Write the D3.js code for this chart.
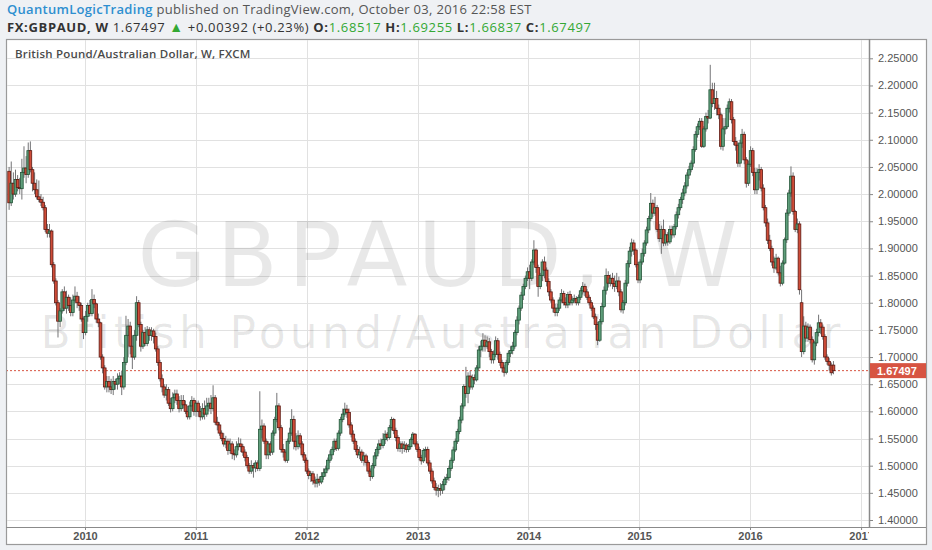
<!DOCTYPE html>
<html><head><meta charset="utf-8">
<script src="https://cdn.jsdelivr.net/npm/d3@7"></script>
<style>
html,body{margin:0;padding:0;background:#eff1f4;}
svg{display:block;}
</style></head><body>
<svg id="c" width="932" height="550"></svg>
<script>
// ---- data (weekly candles, FXCM GBPAUD) ----
const firstWeek = "2009-04-26";
const lastWeekEnd = "2016-10-03";
const open = [
2.042,1.984,2.02,2.0,2.027,2.012,2.01,2.04,2.048,2.036,
2.08,2.045,2.02,2.008,1.995,1.99,1.985,1.975,1.935,1.928,
1.932,1.87,1.84,1.80,1.766,1.785,1.82,1.79,1.81,1.795,
1.782,1.805,1.812,1.80,1.795,1.77,1.745,1.775,1.795,1.78,
1.806,1.798,1.77,1.763,1.70,1.68,1.645,1.655,1.645,1.64,
1.655,1.65,1.66,1.665,1.645,1.69,1.74,1.757,1.72,1.70,
1.74,1.80,1.76,1.72,1.745,1.725,1.75,1.74,1.748,1.738,
1.715,1.69,1.66,1.645,1.63,1.64,1.615,1.605,1.625,1.632,
1.62,1.605,1.62,1.612,1.60,1.59,1.61,1.62,1.60,1.615,
1.60,1.59,1.605,1.595,1.61,1.615,1.605,1.625,1.58,1.575,
1.56,1.55,1.54,1.545,1.528,1.54,1.522,1.52,1.535,1.54,
1.535,1.525,1.515,1.50,1.49,1.50,1.496,1.505,1.495,1.567,
1.573,1.545,1.52,1.54,1.525,1.56,1.585,1.61,1.57,1.53,
1.525,1.51,1.545,1.56,1.585,1.545,1.535,1.555,1.54,1.52,
1.51,1.49,1.482,1.485,1.472,1.468,1.475,1.47,1.48,1.487,
1.494,1.51,1.52,1.53,1.545,1.532,1.56,1.585,1.595,1.604,
1.598,1.575,1.558,1.545,1.53,1.52,1.525,1.51,1.518,1.506,
1.49,1.48,1.50,1.518,1.53,1.54,1.537,1.548,1.558,1.552,
1.57,1.585,1.565,1.552,1.532,1.54,1.532,1.538,1.53,1.535,
1.548,1.558,1.54,1.53,1.515,1.509,1.528,1.53,1.505,1.49,
1.472,1.46,1.455,1.458,1.455,1.465,1.475,1.478,1.495,1.51,
1.529,1.545,1.563,1.584,1.61,1.646,1.633,1.665,1.645,1.662,
1.658,1.68,1.713,1.72,1.731,1.72,1.728,1.71,1.695,1.705,
1.73,1.705,1.69,1.68,1.672,1.69,1.707,1.712,1.72,1.745,
1.768,1.79,1.814,1.83,1.845,1.857,1.845,1.875,1.897,1.865,
1.83,1.85,1.875,1.86,1.839,1.82,1.805,1.79,1.782,1.79,
1.805,1.817,1.80,1.796,1.815,1.80,1.805,1.808,1.80,1.81,
1.822,1.83,1.82,1.81,1.80,1.79,1.774,1.76,1.731,1.765,
1.793,1.823,1.85,1.836,1.845,1.835,1.83,1.84,1.82,1.787,
1.80,1.836,1.872,1.895,1.91,1.897,1.87,1.842,1.875,1.891,
1.91,1.934,1.955,1.983,1.965,1.975,1.935,1.918,1.935,1.91,
1.925,1.912,1.935,1.925,1.94,1.962,1.975,1.99,2.002,2.015,
2.035,2.045,2.057,2.082,2.11,2.124,2.134,2.088,2.12,2.143,
2.14,2.192,2.167,2.176,2.158,2.146,2.088,2.12,2.124,2.158,
2.17,2.137,2.097,2.09,2.057,2.094,2.11,2.063,2.02,2.055,
2.08,2.04,2.008,2.04,2.045,2.011,1.975,1.947,1.915,1.90,
1.875,1.864,1.882,1.855,1.836,1.873,1.916,1.965,2.002,2.033,
1.968,1.935,1.945,1.80,1.71,1.757,1.735,1.755,1.732,1.695,
1.726,1.745,1.763,1.755,1.738,1.70,1.692,1.685,1.68517];
const high = [
2.05,2.06,2.04,2.045,2.035,2.03,2.065,2.088,2.07,2.095,
2.097,2.05,2.04,2.027,2.025,2.0,1.995,1.98,1.945,1.945,
1.935,1.875,1.845,1.805,1.79,1.825,1.83,1.822,1.815,1.81,
1.815,1.83,1.82,1.812,1.80,1.775,1.785,1.80,1.805,1.825,
1.815,1.80,1.78,1.765,1.705,1.685,1.665,1.665,1.66,1.665,
1.66,1.67,1.672,1.675,1.70,1.776,1.77,1.765,1.74,1.75,
1.812,1.805,1.765,1.75,1.755,1.757,1.755,1.755,1.752,1.745,
1.72,1.695,1.668,1.65,1.65,1.645,1.625,1.635,1.64,1.64,
1.628,1.63,1.63,1.62,1.61,1.618,1.628,1.625,1.62,1.62,
1.61,1.615,1.62,1.625,1.625,1.63,1.648,1.63,1.59,1.58,
1.565,1.56,1.555,1.55,1.55,1.545,1.53,1.545,1.552,1.55,
1.54,1.53,1.52,1.505,1.51,1.505,1.51,1.51,1.637,1.585,
1.578,1.55,1.545,1.545,1.565,1.59,1.634,1.615,1.575,1.54,
1.53,1.55,1.57,1.604,1.592,1.56,1.565,1.56,1.545,1.525,
1.515,1.495,1.49,1.49,1.48,1.485,1.48,1.488,1.495,1.50,
1.515,1.528,1.535,1.55,1.55,1.565,1.59,1.605,1.616,1.612,
1.605,1.58,1.565,1.55,1.538,1.535,1.53,1.525,1.522,1.51,
1.495,1.505,1.525,1.535,1.548,1.55,1.56,1.565,1.562,1.575,
1.59,1.588,1.57,1.556,1.545,1.545,1.545,1.542,1.54,1.552,
1.562,1.56,1.545,1.535,1.52,1.532,1.535,1.535,1.51,1.495,
1.478,1.468,1.465,1.468,1.472,1.48,1.485,1.50,1.515,1.535,
1.55,1.568,1.59,1.615,1.65,1.682,1.672,1.675,1.668,1.668,
1.685,1.72,1.73,1.744,1.74,1.738,1.735,1.715,1.712,1.738,
1.735,1.71,1.695,1.685,1.695,1.712,1.72,1.728,1.75,1.775,
1.795,1.82,1.835,1.85,1.865,1.87,1.88,1.915,1.90,1.87,
1.855,1.88,1.885,1.865,1.845,1.825,1.81,1.798,1.798,1.81,
1.825,1.822,1.81,1.82,1.822,1.812,1.815,1.812,1.815,1.828,
1.838,1.835,1.825,1.815,1.805,1.795,1.78,1.765,1.77,1.80,
1.83,1.863,1.858,1.852,1.855,1.85,1.855,1.848,1.825,1.805,
1.842,1.878,1.903,1.918,1.916,1.90,1.875,1.88,1.90,1.915,
1.94,1.96,2.002,1.99,1.995,1.98,1.945,1.942,1.953,1.935,
1.93,1.942,1.942,1.945,1.968,1.982,1.995,2.01,2.022,2.04,
2.052,2.062,2.088,2.116,2.13,2.14,2.14,2.125,2.15,2.155,
2.238,2.205,2.205,2.19,2.165,2.15,2.14,2.14,2.165,2.176,
2.175,2.142,2.105,2.095,2.10,2.12,2.115,2.068,2.062,2.088,
2.085,2.048,2.048,2.055,2.05,2.018,1.98,1.955,1.925,1.905,
1.885,1.89,1.885,1.868,1.878,1.92,1.972,2.008,2.051,2.04,
1.971,1.955,1.95,1.824,1.775,1.765,1.762,1.76,1.738,1.73,
1.752,1.778,1.77,1.76,1.742,1.705,1.698,1.69,1.69255];
const low = [
1.971,1.978,1.99,1.995,2.005,2.0,1.99,2.03,2.02,2.03,
2.04,2.005,2.0,1.99,1.985,1.978,1.97,1.93,1.92,1.92,
1.865,1.835,1.795,1.736,1.755,1.78,1.785,1.78,1.785,1.775,
1.775,1.80,1.79,1.785,1.765,1.733,1.74,1.765,1.775,1.775,
1.79,1.763,1.755,1.695,1.67,1.64,1.635,1.635,1.632,1.63,
1.64,1.64,1.65,1.63,1.64,1.685,1.70,1.705,1.678,1.695,
1.73,1.755,1.71,1.715,1.72,1.72,1.73,1.73,1.725,1.71,
1.684,1.655,1.635,1.625,1.62,1.61,1.598,1.60,1.615,1.612,
1.598,1.60,1.605,1.595,1.585,1.585,1.60,1.592,1.59,1.59,
1.583,1.585,1.585,1.59,1.60,1.595,1.60,1.575,1.565,1.555,
1.545,1.535,1.532,1.52,1.522,1.512,1.51,1.515,1.528,1.525,
1.518,1.508,1.495,1.485,1.485,1.478,1.488,1.49,1.49,1.55,
1.54,1.512,1.512,1.518,1.52,1.555,1.58,1.565,1.524,1.515,
1.506,1.505,1.54,1.555,1.53,1.528,1.53,1.532,1.515,1.505,
1.485,1.475,1.47,1.465,1.46,1.46,1.463,1.466,1.474,1.48,
1.49,1.505,1.512,1.525,1.527,1.528,1.555,1.58,1.59,1.588,
1.57,1.552,1.54,1.525,1.514,1.512,1.505,1.50,1.50,1.485,
1.472,1.476,1.495,1.512,1.522,1.53,1.532,1.54,1.545,1.548,
1.565,1.558,1.545,1.526,1.525,1.522,1.525,1.524,1.525,1.53,
1.54,1.535,1.525,1.51,1.502,1.505,1.515,1.50,1.485,1.467,
1.455,1.445,1.442,1.445,1.448,1.455,1.468,1.472,1.49,1.505,
1.525,1.54,1.558,1.578,1.605,1.625,1.615,1.64,1.64,1.65,
1.655,1.675,1.70,1.71,1.71,1.715,1.70,1.688,1.688,1.70,
1.695,1.684,1.672,1.664,1.668,1.685,1.70,1.705,1.715,1.74,
1.76,1.785,1.805,1.825,1.84,1.825,1.84,1.87,1.855,1.811,
1.825,1.84,1.845,1.83,1.812,1.80,1.782,1.775,1.775,1.785,
1.80,1.795,1.79,1.79,1.795,1.795,1.80,1.795,1.795,1.805,
1.815,1.812,1.805,1.795,1.785,1.77,1.75,1.722,1.728,1.76,
1.79,1.815,1.828,1.83,1.825,1.82,1.825,1.812,1.782,1.78,
1.795,1.83,1.865,1.885,1.888,1.865,1.836,1.836,1.87,1.885,
1.905,1.928,1.95,1.958,1.96,1.93,1.912,1.89,1.904,1.905,
1.905,1.908,1.918,1.92,1.935,1.955,1.97,1.982,1.996,2.01,
2.028,2.04,2.05,2.078,2.104,2.118,2.085,2.085,2.115,2.13,
2.138,2.16,2.155,2.145,2.138,2.082,2.08,2.11,2.12,2.15,
2.13,2.09,2.08,2.05,2.05,2.085,2.055,2.012,2.015,2.05,
2.033,2.0,2.0,2.025,2.005,1.97,1.94,1.908,1.895,1.868,
1.855,1.86,1.85,1.83,1.832,1.87,1.91,1.96,1.995,1.962,
1.93,1.928,1.815,1.70,1.705,1.728,1.728,1.725,1.69,1.686,
1.72,1.738,1.742,1.732,1.695,1.686,1.675,1.666,1.66837];
const close = [
1.984,2.02,2.0,2.027,2.012,2.01,2.04,2.048,2.036,2.08,
2.045,2.02,2.008,1.995,1.99,1.985,1.975,1.935,1.928,1.932,
1.87,1.84,1.80,1.766,1.785,1.82,1.79,1.81,1.795,1.782,
1.805,1.812,1.80,1.795,1.77,1.745,1.775,1.795,1.78,1.806,
1.798,1.77,1.763,1.70,1.68,1.645,1.655,1.645,1.64,1.655,
1.65,1.66,1.665,1.645,1.69,1.74,1.757,1.72,1.70,1.74,
1.80,1.76,1.72,1.745,1.725,1.75,1.74,1.748,1.738,1.715,
1.69,1.66,1.645,1.63,1.64,1.615,1.605,1.625,1.632,1.62,
1.605,1.62,1.612,1.60,1.59,1.61,1.62,1.60,1.615,1.60,
1.59,1.605,1.595,1.61,1.615,1.605,1.625,1.58,1.575,1.56,
1.55,1.54,1.545,1.528,1.54,1.522,1.52,1.535,1.54,1.535,
1.525,1.515,1.50,1.49,1.50,1.496,1.505,1.495,1.567,1.573,
1.545,1.52,1.54,1.525,1.56,1.585,1.61,1.57,1.53,1.525,
1.51,1.545,1.56,1.585,1.545,1.535,1.555,1.54,1.52,1.51,
1.49,1.482,1.485,1.472,1.468,1.475,1.47,1.48,1.487,1.494,
1.51,1.52,1.53,1.545,1.532,1.56,1.585,1.595,1.604,1.598,
1.575,1.558,1.545,1.53,1.52,1.525,1.51,1.518,1.506,1.49,
1.48,1.50,1.518,1.53,1.54,1.537,1.548,1.558,1.552,1.57,
1.585,1.565,1.552,1.532,1.54,1.532,1.538,1.53,1.535,1.548,
1.558,1.54,1.53,1.515,1.509,1.528,1.53,1.505,1.49,1.472,
1.46,1.455,1.458,1.455,1.465,1.475,1.478,1.495,1.51,1.529,
1.545,1.563,1.584,1.61,1.646,1.633,1.665,1.645,1.662,1.658,
1.68,1.713,1.72,1.731,1.72,1.728,1.71,1.695,1.705,1.73,
1.705,1.69,1.68,1.672,1.69,1.707,1.712,1.72,1.745,1.768,
1.79,1.814,1.83,1.845,1.857,1.845,1.875,1.897,1.865,1.83,
1.85,1.875,1.86,1.839,1.82,1.805,1.79,1.782,1.79,1.805,
1.817,1.80,1.796,1.815,1.80,1.805,1.808,1.80,1.81,1.822,
1.83,1.82,1.81,1.80,1.79,1.774,1.76,1.731,1.765,1.793,
1.823,1.85,1.836,1.845,1.835,1.83,1.84,1.82,1.787,1.80,
1.836,1.872,1.895,1.91,1.897,1.87,1.842,1.875,1.891,1.91,
1.934,1.955,1.983,1.965,1.975,1.935,1.918,1.935,1.91,1.925,
1.912,1.935,1.925,1.94,1.962,1.975,1.99,2.002,2.015,2.035,
2.045,2.057,2.082,2.11,2.124,2.134,2.088,2.12,2.143,2.14,
2.192,2.167,2.176,2.158,2.146,2.088,2.12,2.124,2.158,2.17,
2.137,2.097,2.09,2.057,2.094,2.11,2.063,2.02,2.055,2.08,
2.04,2.008,2.04,2.045,2.011,1.975,1.947,1.915,1.90,1.875,
1.864,1.882,1.855,1.836,1.873,1.916,1.965,2.002,2.033,1.968,
1.935,1.945,1.824,1.71,1.757,1.735,1.755,1.732,1.695,1.726,
1.745,1.763,1.755,1.738,1.70,1.692,1.685,1.671,1.67497];
const priceTicks = [1.40,1.45,1.50,1.55,1.60,1.65,1.70,1.75,1.80,1.85,1.90,1.95,2.00,2.05,2.10,2.15,2.20,2.25];
const yearTicks = [2010,2011,2012,2013,2014,2015,2016,2017];
const lastPrice = 1.67497;

// ---- layout ----
const svg = d3.select("#c");
const L = 6, R = 869, T = 39, B = 527, FR = 926, FB = 544;
const x = d3.scaleUtc().domain([new Date(Date.UTC(2010,0,1)), new Date(Date.UTC(2016,0,1))]).range([85, 750]);
const y = d3.scaleLinear().domain([1.40, 2.25]).range([520, 58.3]);
const dates = d3.utcWeek.range(new Date(firstWeek), new Date(lastWeekEnd)).slice(0, close.length);

// frame
svg.append("rect").attr("x", L+0.5).attr("y", T+0.5).attr("width", FR-L).attr("height", FB-T)
  .attr("fill", "#fff").attr("stroke", "#9a9a9a").attr("stroke-width", 1.2);

svg.append("defs").append("clipPath").attr("id","plot").append("rect")
  .attr("x", L+1).attr("y", T+1).attr("width", R-L-1).attr("height", B-T-1);

const grid = svg.append("g").attr("clip-path","url(#plot)");
grid.selectAll("line.h").data(priceTicks).join("line")
  .attr("x1", L).attr("x2", R).attr("y1", d=>Math.round(y(d))+0.5).attr("y2", d=>Math.round(y(d))+0.5)
  .attr("stroke", "#e1e1e1").attr("stroke-width", 1);
grid.selectAll("line.v").data(yearTicks).join("line")
  .attr("y1", T).attr("y2", B)
  .attr("x1", d=>Math.round(x(new Date(Date.UTC(d,0,1))))+0.5).attr("x2", d=>Math.round(x(new Date(Date.UTC(d,0,1))))+0.5)
  .attr("stroke", "#e1e1e1").attr("stroke-width", 1);

// watermark
const cx = (L + R) / 2;
grid.append("text").attr("x", cx).attr("y", 286).attr("text-anchor","middle")
  .attr("font-family","DejaVu Sans").attr("font-size", 89).attr("fill","rgba(0,0,0,0.09)")
  .attr("textLength", 600).attr("lengthAdjust","spacing").text("GBPAUD, W");
grid.append("text").attr("x", cx + 3).attr("y", 348).attr("text-anchor","middle")
  .attr("font-family","DejaVu Sans").attr("font-size", 44).attr("fill","rgba(0,0,0,0.09)")
  .attr("textLength", 800).attr("lengthAdjust","spacing").text("British Pound/Australian Dollar");

// last price dotted line
grid.append("line").attr("x1", L).attr("x2", R).attr("y1", y(lastPrice)).attr("y2", y(lastPrice))
  .attr("stroke", "#d75442").attr("stroke-width", 1).attr("stroke-dasharray", "2,2");

// candles
const idx = d3.range(close.length);
const cg = svg.append("g").attr("clip-path","url(#plot)");
const bw = 2.7;
cg.selectAll("line.wick").data(idx).join("line")
  .attr("x1", i=>x(dates[i])).attr("x2", i=>x(dates[i]))
  .attr("y1", i=>y(high[i])).attr("y2", i=>y(low[i]))
  .attr("stroke", "#737375").attr("stroke-width", 1);
cg.selectAll("rect.body").data(idx).join("rect")
  .attr("x", i=>x(dates[i]) - bw/2)
  .attr("y", i=>y(Math.max(open[i], close[i])))
  .attr("width", bw)
  .attr("height", i=>Math.max(0.8, Math.abs(y(open[i]) - y(close[i]))))
  .attr("fill", i=>close[i] >= open[i] ? "#5f9e7b" : "#cf4c38")
  .attr("stroke", i=>close[i] >= open[i] ? "#225437" : "#5b1a13")
  .attr("stroke-width", 0.8);

// axis separators
svg.append("line").attr("x1", R+0.5).attr("x2", R+0.5).attr("y1", T).attr("y2", B+1)
  .attr("stroke", "#8a8a8a").attr("stroke-width", 1.5);
svg.append("line").attr("x1", L).attr("x2", FR).attr("y1", B+0.5).attr("y2", B+0.5)
  .attr("stroke", "#8a8a8a").attr("stroke-width", 1.2);

// y axis
const ya = svg.append("g").attr("transform", `translate(${R+1},0)`)
  .call(d3.axisRight(y).tickValues(priceTicks).tickFormat(d3.format(".5f")).tickSize(3).tickPadding(5));
ya.select(".domain").remove();
ya.selectAll("line").attr("stroke", "#888");
ya.selectAll("text").attr("font-family", "Liberation Sans, Arial, sans-serif").attr("font-size", 11).attr("fill", "#555");

// last price label
svg.append("rect").attr("x", R+1).attr("y", y(lastPrice)-7.5).attr("width", FR-R-1).attr("height", 15)
  .attr("fill", "#d75442");
svg.append("text").attr("x", R+8).attr("y", y(lastPrice)+4).attr("font-family","Liberation Sans, Arial, sans-serif")
  .attr("font-size", 11).attr("font-weight", "bold").attr("fill", "#fff").text(d3.format(".5f")(lastPrice));

// x axis
svg.append("defs").append("clipPath").attr("id","xax").append("rect")
  .attr("x", L).attr("y", B).attr("width", R-L).attr("height", FB-B);
const xa = svg.append("g").attr("clip-path","url(#xax)").append("g").attr("transform", `translate(0,${B})`)
  .call(d3.axisBottom(x).tickValues(yearTicks.map(d=>new Date(Date.UTC(d,0,1)))).tickFormat(d3.utcFormat("%Y")).tickSize(3).tickPadding(2));
xa.select(".domain").remove();
xa.selectAll("line").attr("stroke", "#888");
xa.selectAll("text").attr("font-family", "Liberation Sans, Arial, sans-serif").attr("font-size", 11)
  .attr("font-weight", "bold").attr("fill", "#555");

// chart title inside
svg.append("text").attr("x", 15).attr("y", 58).attr("font-family","Open Sans").attr("font-size", 11.5)
  .attr("font-weight", 600).attr("fill", "#4a4a4a").attr("letter-spacing", 0.2).text("British Pound/Australian Dollar, W, FXCM");

// header
const h1 = svg.append("text").attr("x", 7).attr("y", 13.5).attr("font-family","Open Sans").attr("font-size", 13)
  .attr("letter-spacing", 0.3).attr("fill", "#555");
h1.append("tspan").attr("fill", "#2e8fd0").attr("font-weight", 600).text("QuantumLogicTrading");
h1.append("tspan").text(" published on TradingView.com, October 03, 2016 22:58 EST");

const green = "#33a833";
const h2 = svg.append("text").attr("x", 7).attr("y", 31.5).attr("font-family","Open Sans").attr("font-size", 13)
  .attr("letter-spacing", 0.65).attr("fill", "#333");
h2.append("tspan").attr("font-weight", 700).text("FX:GBPAUD, W");
h2.append("tspan").text(" 1.67497 ");
h2.append("tspan").attr("fill", green).attr("font-size", 14).text("▲");
h2.append("tspan").text(" +0.00392 (+0.23%) ");
[["O:", "1.68517"], ["H:", "1.69255"], ["L:", "1.66837"], ["C:", "1.67497"]].forEach((p, k) => {
  h2.append("tspan").attr("font-weight", 700).text((k ? " " : "") + p[0]);
  h2.append("tspan").attr("fill", green).text(p[1]);
});
</script>
</body></html>
